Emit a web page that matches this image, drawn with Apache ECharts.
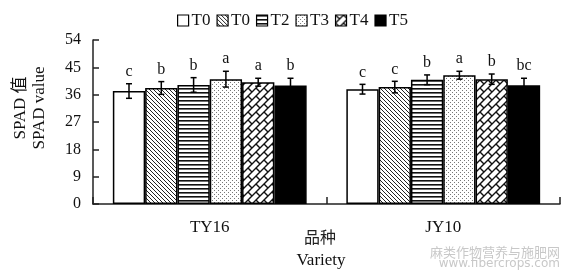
<!DOCTYPE html>
<html>
<head>
<meta charset="utf-8">
<script src="https://cdn.jsdelivr.net/npm/echarts@6/dist/echarts.min.js"></script>
<style>html,body{margin:0;padding:0;background:#fff}#c{width:567px;height:276px}</style>
</head>
<body>
<div id="c"></div>
<script>
// ---- data ----
const varieties = ['TY16', 'JY10'];
const treatments = ['T0 ', 'T0', 'T2', 'T3', 'T4', 'T5'];
const yTicks = [0, 9, 18, 27, 36, 45, 54];
const meanT0a = [37.2, 37.8];
const meanT0b = [38.2, 38.5];
const meanT2 = [39.2, 40.9];
const meanT3 = [41.1, 42.4];
const meanT4 = [40.1, 41.1];
const meanT5 = [39.0, 39.1];
const errT0a = [2.4, 1.6];
const errT0b = [2.1, 1.9];
const errT2 = [2.4, 1.6];
const errT3 = [2.6, 1.3];
const errT4 = [1.3, 1.7];
const errT5 = [2.4, 2.3];
const lettersT0a = ['c', 'c'];
const lettersT0b = ['b', 'c'];
const lettersT2 = ['b', 'b'];
const lettersT3 = ['a', 'a'];
const lettersT4 = ['a', 'b'];
const lettersT5 = ['b', 'bc'];

const means = [meanT0a, meanT0b, meanT2, meanT3, meanT4, meanT5];
const errs = [errT0a, errT0b, errT2, errT3, errT4, errT5];
const letters = [lettersT0a, lettersT0b, lettersT2, lettersT3, lettersT4, lettersT5];

// ---- patterns ----
function tile(w, h, draw) {
  const c = document.createElement('canvas');
  c.width = w; c.height = h;
  const g = c.getContext('2d');
  g.fillStyle = '#fff'; g.fillRect(0, 0, w, h);
  draw(g);
  return { image: c, repeat: 'repeat' };
}
const patWhite = '#fff';
const patDiag = tile(4, 4, g => {
  g.strokeStyle = '#222'; g.lineWidth = 1;
  g.beginPath();
  g.moveTo(-1, -1); g.lineTo(5, 5);
  g.moveTo(-1, 3); g.lineTo(1, 5);
  g.moveTo(3, -1); g.lineTo(5, 1);
  g.stroke();
});
const patHoriz = tile(4, 4, g => {
  g.fillStyle = '#111'; g.fillRect(0, 0, 4, 1.6);
});
const patDots = tile(4, 4, g => {
  g.fillStyle = '#777';
  g.fillRect(0, 0, 1, 1); g.fillRect(2, 2, 1, 1);
});
const patBrick = tile(8, 8, g => {
  g.strokeStyle = '#111'; g.lineWidth = 1.4;
  g.beginPath();
  g.moveTo(-1, 9); g.lineTo(9, -1);
  g.moveTo(-1, 1); g.lineTo(1, -1);
  g.moveTo(7, 9); g.lineTo(9, 7);
  g.moveTo(0, 0); g.lineTo(4, 4);
  g.moveTo(8, 0); g.lineTo(12, 4);
  g.moveTo(0, 8); g.lineTo(4, 12);
  g.moveTo(-8, 0); g.lineTo(-4, 4);
  g.stroke();
});
const fills = [patWhite, patDiag, patHoriz, patDots, patBrick, '#000'];

const serif = '"Liberation Serif", "Times New Roman", serif';
const cjk = '"Liberation Serif", "Noto Sans CJK SC", serif';
const GAP = '17%';

const barSeries = treatments.map((name, i) => ({
  name: name,
  type: 'bar',
  data: means[i],
  barGap: '0%',
  barCategoryGap: GAP,
  itemStyle: { color: fills[i], borderColor: '#000', borderWidth: 1.5 },
  emphasis: { disabled: true },
  animation: false
}));

const errData = [];
const errLetters = [];
treatments.forEach((n, t) => {
  varieties.forEach((v, k) => {
    errData.push([k, t, means[t][k], errs[t][k]]);
    errLetters.push(letters[t][k]);
  });
});

const errSeries = {
  type: 'custom',
  z: 10,
  silent: true,
  animation: false,
  data: errData,
  encode: { x: 0, y: 2 },
  renderItem: function (params, api) {
    const cat = api.value(0), t = api.value(1), val = api.value(2), e = api.value(3);
    const catW = api.size([1, 0])[0];
    const bw = catW * (1 - parseFloat(GAP) / 100) / 6;
    const cx = api.coord([cat, 0])[0] + (t - 2.5) * bw;
    const top = api.coord([cat, val + e])[1];
    const bot = api.coord([cat, val - e])[1];
    const cap = 3;
    const st = { stroke: '#000', lineWidth: 1.5 };
    return {
      type: 'group',
      children: [
        { type: 'line', shape: { x1: cx, y1: top, x2: cx, y2: bot }, style: st },
        { type: 'line', shape: { x1: cx - cap, y1: top, x2: cx + cap, y2: top }, style: st },
        { type: 'line', shape: { x1: cx - cap, y1: bot, x2: cx + cap, y2: bot }, style: st },
        { type: 'text', x: cx, y: top - 4, style: { text: errLetters[params.dataIndex], fill: '#111', font: '16px ' + serif, align: 'center', verticalAlign: 'bottom' } }
      ]
    };
  }
};

const chart = echarts.init(document.getElementById('c'), null, { renderer: 'canvas' });
chart.setOption({
  animation: false,
  backgroundColor: '#fff',
  grid: { left: 93, right: 7, top: 40, bottom: 72, containLabel: false },
  legend: {
    data: treatments,
    left: 172, top: 7,
    itemWidth: 11, itemHeight: 11, itemGap: 6,
    selectedMode: false,
    formatter: n => n.trim(),
    textStyle: { fontFamily: serif, fontSize: 17, color: '#111', padding: [0, 0, 0, -2] },
    itemStyle: { borderColor: '#000', borderWidth: 1.2 },
    icon: 'rect'
  },
  xAxis: {
    type: 'category',
    data: varieties,
    axisLine: { lineStyle: { color: '#222', width: 1.5 } },
    axisTick: { show: true, inside: true, length: 7, lineStyle: { color: '#222', width: 1.5 } },
    axisLabel: { fontFamily: serif, fontSize: 17, color: '#111', margin: 15 }
  },
  yAxis: {
    type: 'value',
    min: 0, max: 54, interval: 9,
    axisLine: { show: true, lineStyle: { color: '#222', width: 1.5 } },
    axisTick: { show: true, inside: true, length: 6, lineStyle: { color: '#222', width: 1.5 } },
    splitLine: { show: false },
    axisLabel: { fontFamily: serif, fontSize: 16, color: '#111', margin: 12,
      formatter: v => (yTicks.indexOf(v) >= 0 ? String(v) : '') }
  },
  graphic: [
    { type: 'text', x: 30, y: 108, rotation: Math.PI / 2,
      style: { text: 'SPAD 值\nSPAD value', font: '17px ' + cjk, fill: '#111', align: 'center', verticalAlign: 'middle', lineHeight: 19 } },
    { type: 'text', x: 320, y: 239,
      style: { text: '品种', font: '16px ' + cjk, fill: '#222', align: 'center', verticalAlign: 'middle' } },
    { type: 'text', x: 321, y: 261,
      style: { text: 'Variety', font: '17px ' + serif, fill: '#111', align: 'center', verticalAlign: 'middle' } },
    { type: 'text', x: 560, y: 252,
      style: { text: '麻类作物营养与施肥网', font: '13px "Noto Sans CJK SC"', fill: '#c8c8c8', align: 'right', verticalAlign: 'middle' } },
    { type: 'text', x: 560, y: 264,
      style: { text: 'www.fibercrops.com', font: '12px "DejaVu Sans"', fill: '#c8c8c8', align: 'right', verticalAlign: 'middle' } }
  ],
  series: barSeries.concat([errSeries])
});
</script>
</body>
</html>
